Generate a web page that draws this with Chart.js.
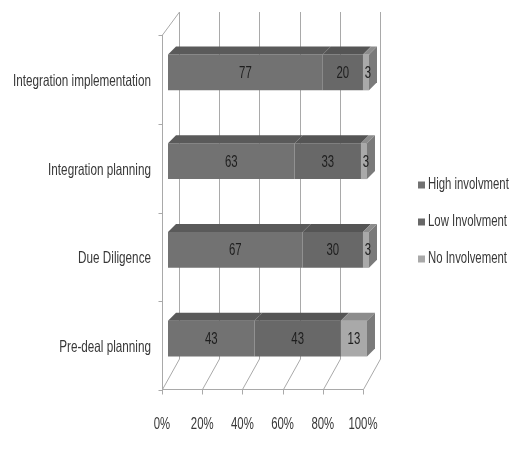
<!DOCTYPE html>
<html>
<head>
<meta charset="utf-8">
<script src="https://cdn.jsdelivr.net/npm/chart.js@4.4.1/dist/chart.umd.min.js"></script>
<style>
  html, body { margin: 0; padding: 0; background: #fff; }
  #grafico { display: block; }
</style>
</head>
<body>
<canvas id="grafico" width="521" height="452"></canvas>
<script>
// datos
const etapas = ['Integration implementation', 'Integration planning', 'Due Diligence', 'Pre-deal planning'];
const altaImplicacion = [77, 63, 67, 43];
const bajaImplicacion = [20, 33, 30, 43];
const sinImplicacion = [3, 3, 3, 13];
const nombresSeries = ['High involvment', 'Low Involvment', 'No Involvement'];
const ticksX = [0, 20, 40, 60, 80, 100];

const fuente = "'Liberation Sans', Arial, sans-serif";
const estrecho = 0.71; // la letra original es tipo narrow
const colorTexto = '#383838';
const colorFrente = ['#727272', '#686868', '#a9a9a9'];
const colorArriba = ['#5a5a5a', '#555555', '#8c8c8c'];
const colorLado = ['#5f5f5f', '#5a5a5a', '#7a7a7a'];
const colorGrid = '#a9a9a9';

function textoEstrecho(ctx, txt, x, y, align) {
  ctx.save();
  ctx.translate(x, y);
  ctx.scale(estrecho, 1);
  ctx.textAlign = align;
  ctx.textBaseline = 'middle';
  ctx.fillText(txt, 0, 0);
  ctx.restore();
}

// marco 3d (pared del fondo, suelo y eje izquierdo)
const marco3d = {
  id: 'marco3d',
  beforeDatasetsDraw(chart) {
    const ctx = chart.ctx;
    const a = chart.chartArea;
    const x = chart.scales.x;
    const yFrente = Math.round(a.bottom + 6) + 0.5;
    const yFondo = Math.round(a.bottom - 24);
    const yTope = Math.round(a.top - 16);

    ctx.save();
    ctx.strokeStyle = colorGrid;
    ctx.lineWidth = 1;
    ctx.beginPath();
    ticksX.forEach(v => {
      const px = Math.round(x.getPixelForValue(v));
      const fx = px - 6 + 0.5;
      const bx = px + 11 + 0.5;
      ctx.moveTo(bx, yTope);
      ctx.lineTo(bx, yFondo);
      ctx.lineTo(fx, yFrente);
      ctx.lineTo(fx, yFrente + 5);
    });
    const x0 = Math.round(x.getPixelForValue(0)) - 6 + 0.5;
    const x1 = Math.round(x.getPixelForValue(100)) - 6 + 0.5;
    ctx.moveTo(x0, yFrente);
    ctx.lineTo(x1, yFrente);
    // eje izquierdo
    ctx.moveTo(x0, a.top + 7);
    ctx.lineTo(x0, yFrente);
    ctx.moveTo(x0, a.top + 7);
    ctx.lineTo(x0 + 17, yTope);
    const paso = a.height / etapas.length;
    for (let i = 0; i <= etapas.length; i++) {
      const yy = Math.round(a.top + i * paso + 7) + 0.5;
      ctx.moveTo(x0 - 4, yy);
      ctx.lineTo(x0, yy);
    }
    ctx.stroke();
    ctx.restore();
  },
  afterDatasetsDraw(chart) {
    const ctx = chart.ctx;
    const dx = 8, dy = -8;
    ctx.save();
    chart.data.datasets.forEach((ds, i) => {
      const meta = chart.getDatasetMeta(i);
      meta.data.forEach((bar, j) => {
        const p = bar.getProps(['x', 'y', 'base', 'height'], true);
        const top = p.y - p.height / 2;
        const bottom = p.y + p.height / 2;
        // cara de arriba
        ctx.fillStyle = colorArriba[i];
        ctx.beginPath();
        ctx.moveTo(p.base, top);
        ctx.lineTo(p.x, top);
        ctx.lineTo(p.x + dx, top + dy);
        ctx.lineTo(p.base + dx, top + dy);
        ctx.closePath();
        ctx.fill();
        // cara lateral solo en el ultimo tramo
        if (i === chart.data.datasets.length - 1) {
          ctx.fillStyle = colorLado[i];
          ctx.beginPath();
          ctx.moveTo(p.x, top);
          ctx.lineTo(p.x + dx, top + dy);
          ctx.lineTo(p.x + dx, bottom + dy);
          ctx.lineTo(p.x, bottom);
          ctx.closePath();
          ctx.fill();
        }
      });
    });

    // etiquetas de valores
    ctx.fillStyle = '#1e1e1e';
    ctx.font = '16px ' + fuente;
    chart.data.datasets.forEach((ds, i) => {
      const meta = chart.getDatasetMeta(i);
      meta.data.forEach((bar, j) => {
        const p = bar.getProps(['x', 'y', 'base'], true);
        let cx = (p.x + p.base) / 2;
        if (i === chart.data.datasets.length - 1 && ds.data[j] < 5) cx += 2;
        textoEstrecho(ctx, String(ds.data[j]), cx, p.y + 1, 'center');
      });
    });
    ctx.restore();
  }
};

// etiquetas de ejes y leyenda
const textos = {
  id: 'textos',
  afterDraw(chart) {
    const ctx = chart.ctx;
    const a = chart.chartArea;
    const sx = chart.scales.x;
    const sy = chart.scales.y;
    ctx.save();
    ctx.fillStyle = colorTexto;
    ctx.font = '16.5px ' + fuente;
    etapas.forEach((e, i) => {
      textoEstrecho(ctx, e, a.left - 17, sy.getPixelForTick(i) + 9, 'right');
    });
    ctx.font = '16px ' + fuente;
    ticksX.forEach(v => {
      textoEstrecho(ctx, v + '%', sx.getPixelForValue(v) - 6, a.bottom + 42, 'center');
    });
    chart.data.datasets.forEach((ds, i) => {
      const yy = 185 + i * 37;
      ctx.fillStyle = colorFrente[i];
      ctx.fillRect(418, yy - 3.5, 7, 7);
      ctx.fillStyle = colorTexto;
      textoEstrecho(ctx, ds.label, 428, yy, 'left');
    });
    ctx.restore();
  }
};

const grafico = new Chart(document.getElementById('grafico'), {
  type: 'bar',
  data: {
    labels: etapas,
    datasets: [
      { label: nombresSeries[0], data: altaImplicacion, backgroundColor: colorFrente[0] },
      { label: nombresSeries[1], data: bajaImplicacion, backgroundColor: colorFrente[1] },
      { label: nombresSeries[2], data: sinImplicacion, backgroundColor: colorFrente[2] }
    ]
  },
  options: {
    indexAxis: 'y',
    responsive: false,
    animation: false,
    barPercentage: 0.405,
    categoryPercentage: 1,
    layout: { padding: { top: 28, right: 152, bottom: 0, left: 0 } },
    plugins: {
      legend: { display: false },
      tooltip: { enabled: false }
    },
    scales: {
      x: {
        stacked: true,
        min: 0,
        max: 100,
        grid: { display: false },
        border: { display: false },
        ticks: { display: false, stepSize: 20 },
        afterFit(scale) { scale.height = 452 - 383; }
      },
      y: {
        stacked: true,
        grid: { display: false },
        border: { display: false },
        ticks: { display: false },
        afterFit(scale) { scale.width = 168; }
      }
    }
  },
  plugins: [marco3d, textos]
});
</script>
</body>
</html>
